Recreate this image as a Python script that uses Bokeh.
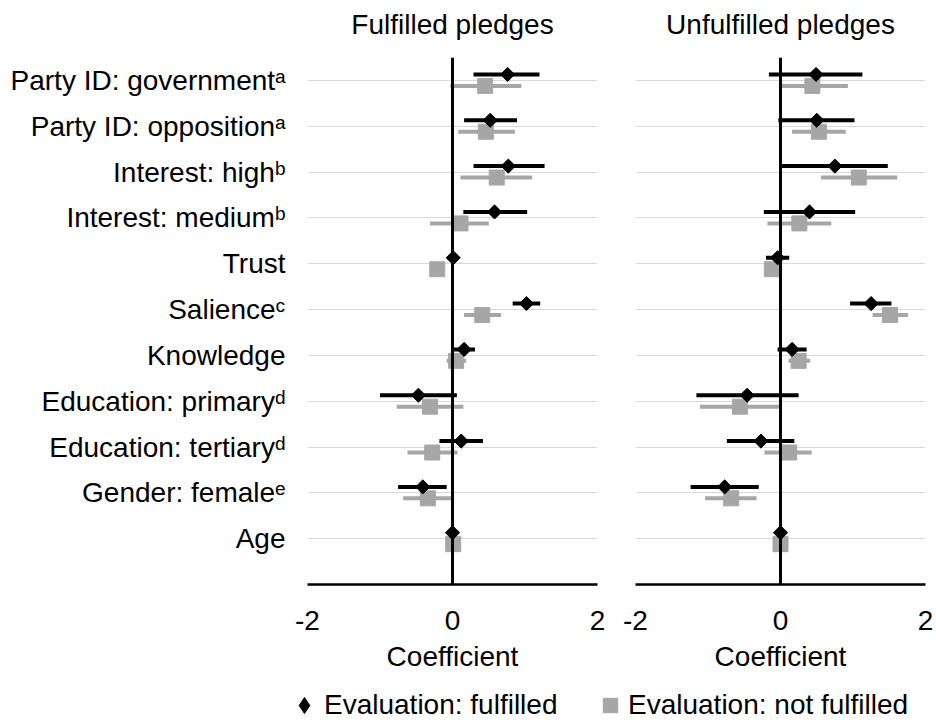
from bokeh.plotting import figure
from bokeh.models import Range1d, FixedTicker, Span, Legend, LegendItem, Label
from bokeh.layouts import column, row
from bokeh.embed import file_html
from bokeh.resources import INLINE
import numpy as np

# ---------------- data ----------------
labels = [
    "Party ID: government\u1d43",
    "Party ID: opposition\u1d43",
    "Interest: high\u1d47",
    "Interest: medium\u1d47",
    "Trust",
    "Salience\u1d9c",
    "Knowledge",
    "Education: primary\u1d48",
    "Education: tertiary\u1d48",
    "Gender: female\u1d49",
    "Age",
]

panel_titles = ["Fulfilled pledges", "Unfulfilled pledges"]
series_names = ["Evaluation: fulfilled", "Evaluation: not fulfilled"]
x_ticks = [-2, 0, 2]

# Fulfilled pledges panel
fp_eval_ful_est = [0.76, 0.52, 0.77, 0.58, 0.01, 1.02, 0.16, -0.47, 0.12, -0.41, 0.00]
fp_eval_ful_lo = [0.29, 0.16, 0.29, 0.15, -0.02, 0.83, 0.01, -1.00, -0.18, -0.75, -0.01]
fp_eval_ful_hi = [1.20, 0.89, 1.27, 1.03, 0.04, 1.21, 0.31, 0.06, 0.42, -0.08, 0.01]
fp_eval_not_est = [0.45, 0.46, 0.61, 0.11, -0.21, 0.41, 0.05, -0.31, -0.28, -0.34, 0.01]
fp_eval_not_lo = [-0.03, 0.08, 0.11, -0.31, -0.26, 0.16, -0.08, -0.77, -0.62, -0.68, -0.01]
fp_eval_not_hi = [0.95, 0.86, 1.10, 0.50, -0.16, 0.67, 0.19, 0.15, 0.07, -0.01, 0.03]

# Unfulfilled pledges panel
up_eval_ful_est = [0.49, 0.50, 0.75, 0.40, -0.04, 1.25, 0.16, -0.46, -0.27, -0.77, 0.00]
up_eval_ful_lo = [-0.16, -0.03, 0.01, -0.23, -0.20, 0.96, -0.04, -1.16, -0.74, -1.24, -0.01]
up_eval_ful_hi = [1.13, 1.02, 1.48, 1.03, 0.12, 1.53, 0.36, 0.25, 0.19, -0.30, 0.01]
up_eval_not_est = [0.44, 0.53, 1.08, 0.26, -0.12, 1.51, 0.25, -0.56, 0.12, -0.68, 0.00]
up_eval_not_lo = [-0.01, 0.16, 0.56, -0.18, -0.17, 1.27, 0.11, -1.11, -0.22, -1.04, -0.01]
up_eval_not_hi = [0.93, 0.90, 1.61, 0.70, -0.07, 1.76, 0.41, -0.01, 0.43, -0.33, 0.01]

# ---------------- style ----------------
FONT = "Liberation Sans"
FS = "28px"
GRAY = "#a6a6a6"
GRID = "#d9d9d9"
FRAME_W = 290
FRAME_H = 527
LEFT1, RIGHT1, LEFT2, RIGHT2 = 307, 18, 20, 10
TOTAL_W = LEFT1 + FRAME_W + RIGHT1 + LEFT2 + FRAME_W + RIGHT2
HEAD_H = 42

n = len(labels)
pos = [n - i for i in range(n)]
OFF_F = 0.13
OFF_N = -0.12


def make_panel(f_est, f_lo, f_hi, n_est, n_lo, n_hi, left, right, show_labels):
    p = figure(frame_width=FRAME_W, frame_height=FRAME_H,
               x_range=Range1d(-2, 2), y_range=Range1d(0, n + 0.5),
               output_backend="svg", toolbar_location=None,
               min_border_left=left, min_border_right=right,
               min_border_top=57 - HEAD_H, min_border_bottom=92)
    p.outline_line_color = None

    yf = [v + OFF_F for v in pos]
    yn = [v + OFF_N for v in pos]

    p.segment(x0=n_lo, x1=n_hi, y0=yn, y1=yn, line_width=4, line_color=GRAY)
    p.scatter(x=n_est, y=yn, marker="square", size=15,
              fill_color=GRAY, line_color=GRAY)
    p.segment(x0=f_lo, x1=f_hi, y0=yf, y1=yf, line_width=4, line_color="black")
    p.scatter(x=f_est, y=yf, marker="square", angle=np.pi / 4, size=10,
              fill_color="black", line_color="black")

    p.add_layout(Span(location=0, dimension="height",
                      line_color="black", line_width=3))

    p.xaxis.ticker = FixedTicker(ticks=x_ticks)
    p.xaxis.major_label_overrides = {t: str(t) for t in x_ticks}
    p.xaxis.axis_line_color = "black"
    p.xaxis.axis_line_width = 2.5
    p.xaxis.major_tick_line_color = None
    p.xaxis.minor_tick_line_color = None
    p.xaxis.major_label_text_font = FONT
    p.xaxis.major_label_text_font_size = FS
    p.xaxis.major_label_text_color = "black"
    p.xaxis.major_label_standoff = 20
    p.xaxis.axis_label = "Coefficient"
    p.xaxis.axis_label_text_font = FONT
    p.xaxis.axis_label_text_font_size = FS
    p.xaxis.axis_label_text_font_style = "normal"
    p.xaxis.axis_label_text_color = "black"
    p.xaxis.axis_label_standoff = 8

    p.xgrid.ticker = FixedTicker(ticks=x_ticks)
    p.xgrid.grid_line_color = GRID
    p.xgrid.grid_line_width = 1
    p.ygrid.ticker = FixedTicker(ticks=pos)
    p.ygrid.grid_line_color = GRID
    p.ygrid.grid_line_width = 1

    if show_labels:
        p.yaxis.ticker = FixedTicker(ticks=pos)
        p.yaxis.major_label_overrides = {v: lab for v, lab in zip(pos, labels)}
        p.yaxis.axis_line_color = None
        p.yaxis.major_tick_line_color = None
        p.yaxis.minor_tick_line_color = None
        p.yaxis.major_label_text_font = FONT
        p.yaxis.major_label_text_font_size = FS
        p.yaxis.major_label_text_color = "black"
        p.yaxis.major_label_standoff = 16
    else:
        p.yaxis.visible = False
    return p


def blank_strip(height):
    s = figure(width=TOTAL_W, height=height, output_backend="svg",
               toolbar_location=None,
               x_range=Range1d(0, TOTAL_W), y_range=Range1d(0, height),
               min_border=0, min_border_left=0, min_border_right=0,
               min_border_top=0, min_border_bottom=0)
    s.axis.visible = False
    s.grid.visible = False
    s.outline_line_color = None
    return s


# heading strip: each heading centred over its panel
p0 = blank_strip(HEAD_H)
centres = [LEFT1 + FRAME_W / 2,
           LEFT1 + FRAME_W + RIGHT1 + LEFT2 + FRAME_W / 2]
for cx, t in zip(centres, panel_titles):
    p0.add_layout(Label(x=cx, y=HEAD_H - 24, text=t, text_align="center",
                        text_baseline="middle", text_font=FONT,
                        text_font_size=FS, text_color="black"))

p1 = make_panel(fp_eval_ful_est, fp_eval_ful_lo, fp_eval_ful_hi,
                fp_eval_not_est, fp_eval_not_lo, fp_eval_not_hi, LEFT1, RIGHT1, True)
p2 = make_panel(up_eval_ful_est, up_eval_ful_lo, up_eval_ful_hi,
                up_eval_not_est, up_eval_not_lo, up_eval_not_hi, LEFT2, RIGHT2, False)

# legend strip (the dummy points lie outside the visible range)
p3 = blank_strip(44)
r1 = p3.scatter(x=[-50], y=[-50], marker="diamond", fill_color="black", line_color="black")
r2 = p3.scatter(x=[-50], y=[-50], marker="square", fill_color=GRAY, line_color=GRAY)

common = dict(orientation="horizontal", label_standoff=0, padding=0, margin=0,
              border_line_color=None, background_fill_alpha=0,
              label_text_font=FONT, label_text_font_size=FS,
              label_text_color="black")
legend1 = Legend(items=[LegendItem(label=series_names[0], renderers=[r1])],
                 location=(284, -5), glyph_width=40, glyph_height=40, **common)
legend2 = Legend(items=[LegendItem(label=series_names[1], renderers=[r2])],
                 location=(592, -3), glyph_width=36, glyph_height=36, **common)
p3.add_layout(legend1)
p3.add_layout(legend2)

layout = column(p0, row(p1, p2), p3)

with open("out.html", "w") as f:
    f.write(file_html(layout, INLINE))
